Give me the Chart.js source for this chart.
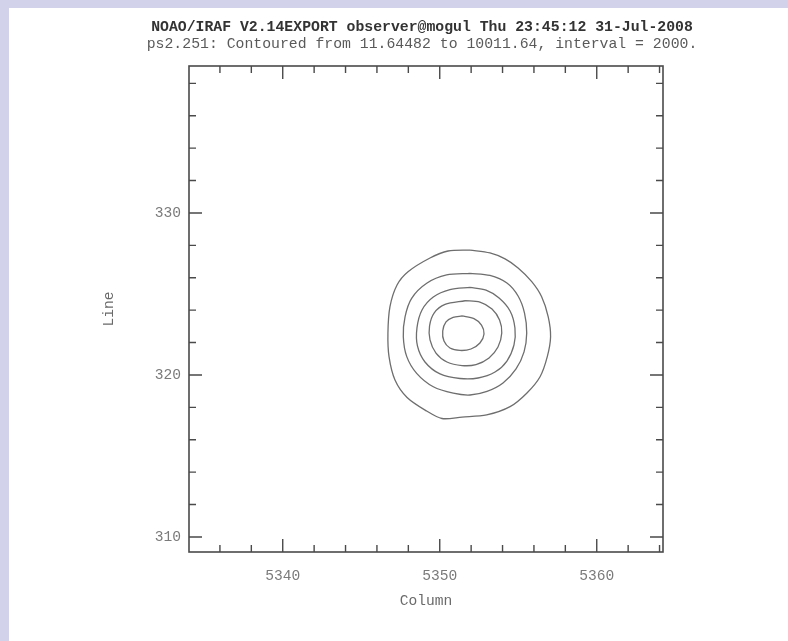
<!DOCTYPE html>
<html>
<head>
<meta charset="utf-8">
<script src="https://cdn.jsdelivr.net/npm/chart.js@4.4.1/dist/chart.umd.min.js"></script>
<style>
  html, body { margin: 0; padding: 0; background: #d2d2ea; }
  #wrap { position: absolute; left: 9px; top: 8px; width: 779px; height: 633px; background: #fff; }
  canvas { display: block; }
</style>
</head>
<body>
<div id="wrap"><canvas id="contourPlot" width="779" height="633"></canvas></div>
<script>
// axis ranges and labels
const xRange = [5334.03, 5364.22];
const yRange = [309.07, 339.07];
const xTickValues = [5340, 5350, 5360];
const yTickValues = [310, 320, 330];
const titleLine1 = 'NOAO/IRAF V2.14EXPORT observer@mogul Thu 23:45:12 31-Jul-2008';
const titleLine2 = 'ps2.251: Contoured from 11.64482 to 10011.64, interval = 2000.';

// contour traces (column, line), outermost first
const outerX = [5351.93, 5353.20, 5354.16, 5354.99, 5355.86, 5356.49, 5356.91, 5357.06, 5356.85, 5356.39, 5355.54, 5354.48, 5352.99, 5351.42, 5350.14, 5349.17, 5347.92, 5347.15, 5346.77, 5346.70, 5346.83, 5347.28, 5347.98, 5349.38, 5350.53];
const outerY = [327.71, 327.53, 327.16, 326.60, 325.76, 324.83, 323.59, 322.36, 321.13, 319.89, 318.87, 318.04, 317.53, 317.40, 317.31, 317.77, 318.61, 319.69, 321.13, 322.57, 324.21, 325.55, 326.37, 327.22, 327.65];

const ring2X = [5351.93, 5353.20, 5354.28, 5354.99, 5355.40, 5355.54, 5355.37, 5354.86, 5354.03, 5353.01, 5351.93, 5350.86, 5349.59, 5348.53, 5347.90, 5347.68, 5347.79, 5348.21, 5349.17, 5350.44];
const ring2Y = [326.27, 326.14, 325.67, 324.87, 323.82, 322.59, 321.42, 320.37, 319.50, 318.98, 318.76, 318.87, 319.27, 320.10, 321.13, 322.36, 323.59, 324.73, 325.66, 326.17];

const ring3X = [5351.93, 5352.95, 5353.78, 5354.48, 5354.79, 5354.73, 5354.28, 5353.52, 5352.44, 5351.29, 5350.02, 5349.06, 5348.58, 5348.55, 5348.87, 5349.59, 5350.65];
const ring3Y = [325.40, 325.24, 324.75, 323.95, 322.90, 321.85, 320.86, 320.18, 319.81, 319.78, 320.06, 320.80, 321.79, 322.90, 324.01, 324.81, 325.27];

const ring4X = [5351.61, 5352.56, 5353.33, 5353.81, 5353.95, 5353.71, 5353.14, 5352.31, 5351.42, 5350.46, 5349.76, 5349.38, 5349.35, 5349.64, 5350.34];
const ring4Y = [324.58, 324.50, 324.07, 323.39, 322.59, 321.72, 321.05, 320.64, 320.58, 320.80, 321.35, 322.16, 323.02, 323.82, 324.35];

const innerX = [5351.42, 5352.18, 5352.66, 5352.82, 5352.56, 5351.99, 5351.29, 5350.65, 5350.27, 5350.19, 5350.40, 5350.85];
const innerY = [323.64, 323.48, 323.08, 322.53, 321.97, 321.60, 321.51, 321.66, 322.09, 322.71, 323.27, 323.55];

const monoFont = '"Liberation Mono", "DejaVu Sans Mono", monospace';

function closedLoop(xs, ys) {
    var pts = xs.map(function (x, i) { return { x: x, y: ys[i] }; });
    pts.push({ x: xs[0], y: ys[0] });
    return pts;
}

function contourSet(label, xs, ys) {
    return {
        label: label,
        data: closedLoop(xs, ys),
        showLine: true,
        borderColor: '#6e6e6e',
        borderWidth: 1.3,
        pointRadius: 0,
        tension: 0.3,
        fill: false
    };
}

// box and inward tick marks on all four sides, like IRAF draws them
const frameTicks = {
    id: 'frameTicks',
    afterDraw: function (chart) {
        var ctx = chart.ctx;
        var a = chart.chartArea;
        var xs = chart.scales.x, ys = chart.scales.y;
        ctx.save();
        ctx.strokeStyle = '#4a4a4a';
        ctx.lineWidth = 1.6;
        ctx.strokeRect(a.left, a.top, a.right - a.left, a.bottom - a.top);
        ctx.lineWidth = 1.4;
        ctx.beginPath();
        for (var v = Math.ceil(xRange[0] / 2) * 2; v <= xRange[1]; v += 2) {
            var px = xs.getPixelForValue(v);
            var len = (v % 10 === 0) ? 13 : 7;
            ctx.moveTo(px, a.bottom); ctx.lineTo(px, a.bottom - len);
            ctx.moveTo(px, a.top); ctx.lineTo(px, a.top + len);
        }
        for (var w = Math.ceil(yRange[0] / 2) * 2; w <= yRange[1]; w += 2) {
            var py = ys.getPixelForValue(w);
            var ln = (w % 10 === 0) ? 13 : 7;
            ctx.moveTo(a.left, py); ctx.lineTo(a.left + ln, py);
            ctx.moveTo(a.right, py); ctx.lineTo(a.right - ln, py);
        }
        ctx.stroke();
        ctx.restore();
    }
};

var ctx = document.getElementById('contourPlot').getContext('2d');
var contourChart = new Chart(ctx, {
    type: 'scatter',
    data: {
        datasets: [
            contourSet('outer', outerX, outerY),
            contourSet('ring 2', ring2X, ring2Y),
            contourSet('ring 3', ring3X, ring3Y),
            contourSet('ring 4', ring4X, ring4Y),
            contourSet('inner', innerX, innerY)
        ]
    },
    options: {
        responsive: false,
        animation: false,
        devicePixelRatio: 1,
        layout: { padding: { left: 47, right: 0, top: 0, bottom: 0 } },
        scales: {
            x: {
                type: 'linear',
                min: xRange[0],
                max: xRange[1],
                afterBuildTicks: function (scale) {
                    scale.ticks = xTickValues.map(function (v) { return { value: v }; });
                },
                afterFit: function (scale) { scale.height = 89; },
                grid: { display: false },
                border: { display: false },
                ticks: {
                    color: '#7a7a7a',
                    padding: 7,
                    maxRotation: 0,
                    font: { family: monoFont, size: 14.6 },
                    callback: function (v) { return String(v); }
                },
                title: {
                    display: true,
                    text: 'Column',
                    color: '#6a6a6a',
                    padding: { top: 0, bottom: 31.6 },
                    font: { family: monoFont, size: 14.6 }
                }
            },
            y: {
                type: 'linear',
                min: yRange[0],
                max: yRange[1],
                afterBuildTicks: function (scale) {
                    scale.ticks = yTickValues.map(function (v) { return { value: v }; });
                },
                afterFit: function (scale) { scale.width = 133; },
                grid: { display: false },
                border: { display: false },
                ticks: {
                    color: '#7a7a7a',
                    padding: 0,
                    font: { family: monoFont, size: 14.6 },
                    callback: function (v) { return String(v); }
                },
                title: {
                    display: true,
                    text: 'Line',
                    color: '#6a6a6a',
                    padding: { top: 44.6, bottom: 0 },
                    font: { family: monoFont, size: 14.6 }
                }
            },
            // empty right-hand axis that only reserves the margin
            y2: {
                type: 'linear',
                position: 'right',
                min: yRange[0],
                max: yRange[1],
                afterFit: function (scale) { scale.width = 125; },
                grid: { display: false },
                border: { display: false },
                ticks: { display: false }
            }
        },
        plugins: {
            legend: { display: false },
            tooltip: { enabled: false },
            title: {
                display: true,
                text: titleLine1,
                color: '#333',
                padding: { top: 10.5, bottom: 0 },
                font: { family: monoFont, size: 14.8, weight: 'bold', lineHeight: '17px' }
            },
            subtitle: {
                display: true,
                text: titleLine2,
                color: '#5a5a5a',
                padding: { top: 0, bottom: 13.5 },
                font: { family: monoFont, size: 14.8, lineHeight: '17px' }
            }
        }
    },
    plugins: [frameTicks]
});
</script>
</body>
</html>
